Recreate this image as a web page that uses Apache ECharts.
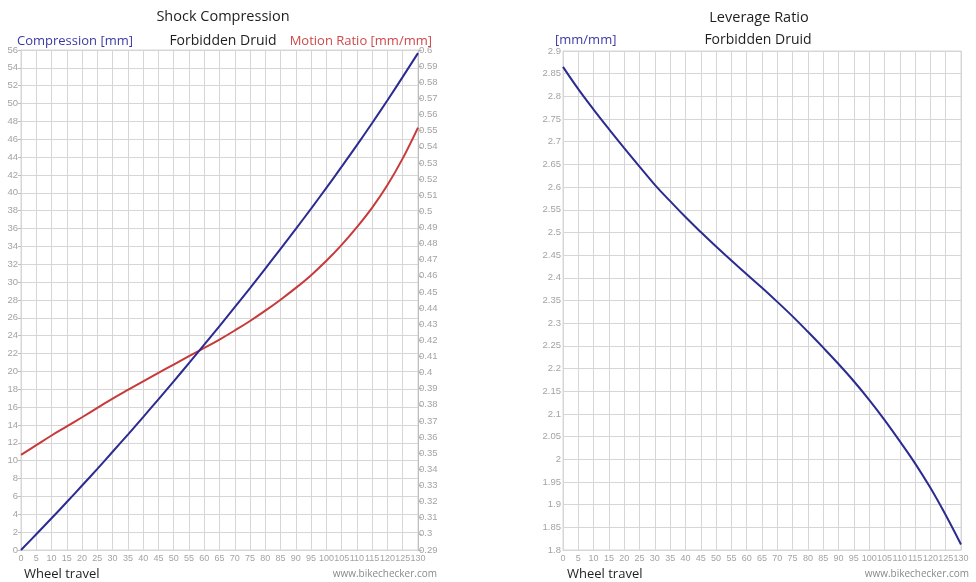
<!DOCTYPE html>
<html>
<head>
<meta charset="utf-8">
<script src="https://cdn.jsdelivr.net/npm/echarts@6/dist/echarts.min.js"></script>
<style>
html,body{margin:0;padding:0;background:#fff;}
#c{width:976px;height:582px;}
</style>
</head>
<body>
<div id="c"></div>
<script>
// ---- data ----
const travel = [0,5,10,15,20,25,30,35,40,45,50,55,60,65,70,75,80,85,90,95,100,105,110,115,120,125,130];
const compression = [0,1.76,3.55,5.37,7.22,9.09,11.00,12.93,14.89,16.88,18.89,20.93,22.99,25.08,27.20,29.34,31.52,33.73,35.96,38.24,40.56,42.93,45.34,47.82,50.37,52.99,55.65];
const motionRatio = [0.349,0.355,0.361,0.3666,0.3723,0.3781,0.3839,0.3893,0.3946,0.3998,0.405,0.4102,0.4153,0.4205,0.4261,0.432,0.4384,0.4452,0.4525,0.4604,0.4693,0.4792,0.4902,0.5023,0.5163,0.5328,0.5519];
const leverage = [2.865,2.816,2.771,2.728,2.686,2.645,2.605,2.569,2.534,2.501,2.469,2.438,2.408,2.378,2.347,2.315,2.281,2.246,2.210,2.172,2.131,2.087,2.040,1.991,1.937,1.877,1.812];

const FONT = '"Open Sans", "Noto Sans", sans-serif';
const NARROW = '"Liberation Sans", Arial, sans-serif';
const GRIDC = '#d6d6d6';
const LBL = '#a3a3a3';
const BLUE = '#2b2b92';
const RED = '#c83a3a';

function pairs(ys){ return travel.map((x,i)=>[x, ys[i]]); }
function fmt(v){ return String(+v.toFixed(2)); }

const xBase = {
  type:'value', min:0, max:130, interval:5,
  axisLine:{show:true, lineStyle:{color:GRIDC}},
  axisTick:{show:false},
  axisLabel:{color:LBL, fontSize:9, fontFamily:NARROW, margin:4, showMaxLabel:true, showMinLabel:true, hideOverlap:false},
  splitLine:{show:true, lineStyle:{color:GRIDC, width:1}}
};

const chart = echarts.init(document.getElementById('c'), null, {renderer:'canvas'});
chart.setOption({
  animation:false,
  backgroundColor:'#fff',
  grid:[
    {left:21, top:50, width:397, height:500, show:true, borderColor:GRIDC, borderWidth:1},
    {left:563, top:51, width:398, height:499, show:true, borderColor:GRIDC, borderWidth:1}
  ],
  xAxis:[
    Object.assign({gridIndex:0}, xBase),
    Object.assign({gridIndex:1}, xBase)
  ],
  yAxis:[
    {gridIndex:0, type:'value', min:0, max:56, interval:2, position:'left',
     axisLine:{show:true, lineStyle:{color:GRIDC}},
     axisTick:{show:true, length:3, lineStyle:{color:'#bdbdbd'}},
     axisLabel:{color:LBL, fontSize:9.5, fontFamily:NARROW, margin:3},
     splitLine:{show:true, lineStyle:{color:GRIDC}}},
    {gridIndex:0, type:'value', min:0.29, max:0.6, interval:0.01, position:'right',
     axisLine:{show:true, lineStyle:{color:'#bdbdbd'}},
     axisTick:{show:true, length:4, lineStyle:{color:'#bdbdbd'}},
     axisLabel:{color:LBL, fontSize:9.5, fontFamily:NARROW, margin:1, formatter:fmt},
     splitLine:{show:false}},
    {gridIndex:1, type:'value', min:1.8, max:2.9, interval:0.05, position:'left',
     axisLine:{show:true, lineStyle:{color:GRIDC}},
     axisTick:{show:false},
     axisLabel:{color:LBL, fontSize:9.5, fontFamily:NARROW, margin:2, formatter:fmt},
     splitLine:{show:true, lineStyle:{color:GRIDC}}}
  ],
  series:[
    {type:'line', xAxisIndex:0, yAxisIndex:0, data:pairs(compression), smooth:0.4, showSymbol:false,
     lineStyle:{color:BLUE, width:2}, z:3},
    {type:'line', xAxisIndex:0, yAxisIndex:1, data:pairs(motionRatio), smooth:0.4, showSymbol:false,
     lineStyle:{color:RED, width:2}, z:2},
    {type:'line', xAxisIndex:1, yAxisIndex:2, data:pairs(leverage), smooth:0.4, showSymbol:false,
     lineStyle:{color:BLUE, width:2}}
  ],
  graphic:[
    {type:'text', x:223, y:17, style:{text:'Shock Compression', font:'14.5px '+FONT, fill:'#1e1e1e', align:'center', verticalAlign:'middle'}},
    {type:'text', x:17, y:41, style:{text:'Compression [mm]', font:'13px '+FONT, fill:'#3a3aa6', align:'left', verticalAlign:'middle'}},
    {type:'text', x:223, y:41, style:{text:'Forbidden Druid', font:'14px '+FONT, fill:'#1e1e1e', align:'center', verticalAlign:'middle'}},
    {type:'text', x:432, y:41, style:{text:'Motion Ratio [mm/mm]', font:'13px '+FONT, fill:'#d04848', align:'right', verticalAlign:'middle'}},
    {type:'text', x:24, y:574, style:{text:'Wheel travel', font:'13px '+FONT, fill:'#1e1e1e', align:'left', verticalAlign:'middle'}},
    {type:'text', x:437, y:574, style:{text:'www.bikechecker.com', font:'10px '+FONT, fill:'#8a8a8a', align:'right', verticalAlign:'middle'}},

    {type:'text', x:759, y:18, style:{text:'Leverage Ratio', font:'14.5px '+FONT, fill:'#1e1e1e', align:'center', verticalAlign:'middle'}},
    {type:'text', x:555, y:40, style:{text:'[mm/mm]', font:'13px '+FONT, fill:'#3a3aa6', align:'left', verticalAlign:'middle'}},
    {type:'text', x:758, y:40, style:{text:'Forbidden Druid', font:'14px '+FONT, fill:'#1e1e1e', align:'center', verticalAlign:'middle'}},
    {type:'text', x:567, y:574, style:{text:'Wheel travel', font:'13px '+FONT, fill:'#1e1e1e', align:'left', verticalAlign:'middle'}},
    {type:'text', x:969, y:574, style:{text:'www.bikechecker.com', font:'10px '+FONT, fill:'#8a8a8a', align:'right', verticalAlign:'middle'}}
  ]
});
</script>
</body>
</html>
